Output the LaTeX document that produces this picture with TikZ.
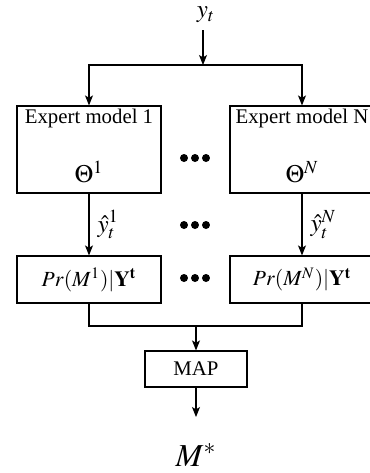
\documentclass[tikz,border=0pt]{standalone}
\usepackage{mathptmx}
\usepackage[no-math]{fontspec}
\setmainfont{Liberation Serif}
\usetikzlibrary{arrows.meta,calc}
\tikzset{
    box/.style={draw, line width=0.6pt, inner sep=0pt},
    link/.style={line width=0.6pt, -{Stealth[length=5pt,width=4pt,inset=1.2pt]}},
    wire/.style={line width=0.6pt},
    txt/.style={font=\fontsize{10.4}{12}\selectfont, inner sep=0pt},
    mth/.style={font=\fontsize{12.5}{14}\selectfont, inner sep=0pt},
}

\begin{document}
\begin{tikzpicture}[x=0.5pt,y=-0.5pt]
\useasboundingbox (0,0) rectangle (370,473);
\clip (0,0) rectangle (370,473);
% input
\node[mth] (yt) at (206,15) {$y_t$};
\coordinate (in) at (203,30);
\coordinate (split) at (203,65);
\draw[link] (in) -- (split);

% expert models
\node[box, minimum width=72pt, minimum height=43.5pt] (exp1) at (89,149.5) {};
\node[box, minimum width=72pt, minimum height=43.5pt] (expN) at (302,149.5) {};
\node[txt] (exp1t) at (89,118) {Expert model 1};
\node[txt] (expNt) at (302,118) {Expert model N};
\node[mth] (th1) at (89,172) {$\Theta^1$};
\node[mth] (thN) at (302,172) {$\Theta^N$};
\draw[link] (split) -| (exp1);
\draw[link] (split) -| (expN);

% posteriors
\node[box, font=\fontsize{10.8}{13}\selectfont, minimum width=72pt, minimum height=23.5pt] (pr1) at (89,279.5) {$Pr(M^1)|\mathbf{Y^t}$};
\node[box, font=\fontsize{10.8}{13}\selectfont, minimum width=72pt, minimum height=23.5pt] (prN) at (302,279.5) {$Pr(M^N)|\mathbf{Y^t}$};
\draw[link] (exp1) -- node[mth, right=4pt] (yh1) {$\hat{y}_t^1$} (pr1);
\draw[link] (expN) -- node[mth, right=4pt] (yhN) {$\hat{y}_t^N$} (prN);

% dots
\foreach \y in {158,225,278}
  \foreach \dx in {-11,0,11}
    \fill (195+\dx,\y) circle (4);

% selection
\coordinate (join) at (196,326);
\node[box, txt, minimum width=51pt, minimum height=18pt] (map) at (196,369) {MAP};
\coordinate (out) at (196,417);
\draw[wire] (pr1) |- (join) -| (prN);
\draw[link] (join) -- (map);
\draw[link] (map) -- (out);
\node[font=\fontsize{16}{18}\selectfont, inner sep=0pt] (mstar) at (196,455) {$M^*$};
\end{tikzpicture}
\end{document}
